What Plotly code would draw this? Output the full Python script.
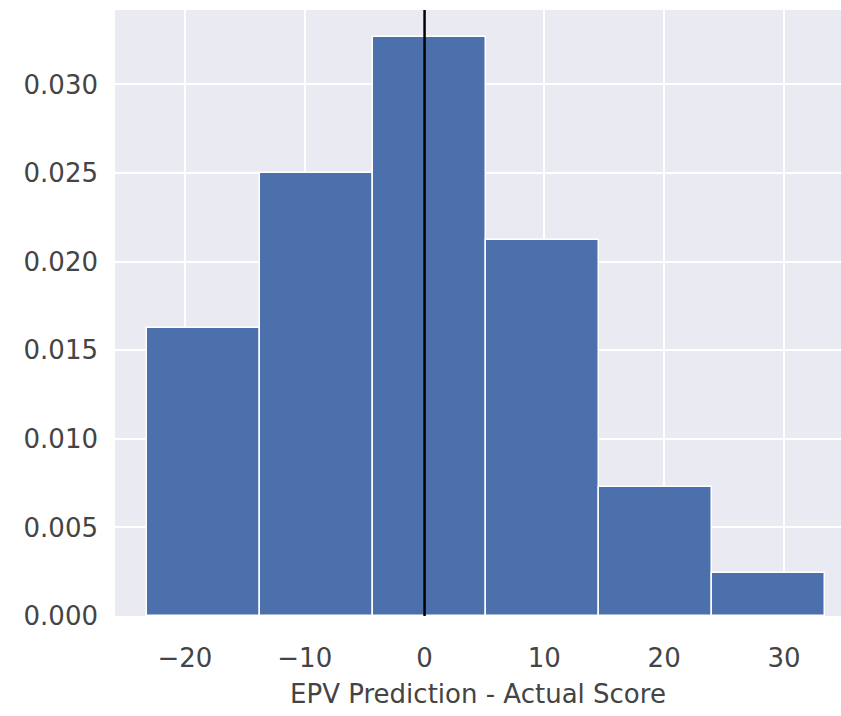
import plotly.graph_objects as go

# Histogram of prediction errors (density-normalised bins)
bin_edges = [-23.17, -13.74, -4.30, 5.13, 14.57, 24.00, 33.44]
densities = [0.01624, 0.0250, 0.0327, 0.02124, 0.0073, 0.00242]
x_ticks = [-20, -10, 0, 10, 20, 30]
y_ticks = [0.000, 0.005, 0.010, 0.015, 0.020, 0.025, 0.030]
x_title = "EPV Prediction - Actual Score"

centers = [(a + b) / 2 for a, b in zip(bin_edges[:-1], bin_edges[1:])]
widths = [b - a for a, b in zip(bin_edges[:-1], bin_edges[1:])]

fig = go.Figure()
fig.add_trace(go.Bar(
    x=centers,
    y=densities,
    width=widths,
    marker=dict(color="#4C70AC", line=dict(color="white", width=1.5)),
    showlegend=False,
))

# reference line at zero error
fig.add_shape(type="line", x0=0, x1=0, xref="x", y0=0, y1=1, yref="paper",
              line=dict(color="black", width=2.5), layer="above")

font = dict(family="DejaVu Sans", size=26, color="#444444")

fig.update_layout(
    width=841, height=716,
    margin=dict(l=115, r=0, t=10, b=100),
    paper_bgcolor="white",
    plot_bgcolor="#EAEAF2",
    bargap=0,
    font=font,
    xaxis=dict(
        range=[-25.84, 34.76],
        tickvals=x_ticks,
        ticktext=["\u221220", "\u221210", "0", "10", "20", "30"],
        showgrid=True, gridcolor="white", gridwidth=1.5,
        zeroline=False, showline=False, ticks="",
        ticklabelstandoff=24,
        title=dict(text=x_title, font=font, standoff=12),
        tickfont=font,
    ),
    yaxis=dict(
        range=[0, 0.0342],
        tickvals=y_ticks,
        ticktext=[f"{v:.3f}" for v in y_ticks],
        showgrid=True, gridcolor="white", gridwidth=1.5,
        zeroline=False, showline=False, ticks="",
        ticklabelstandoff=16,
        tickfont=font,
    ),
)

fig.write_html("out.html")
